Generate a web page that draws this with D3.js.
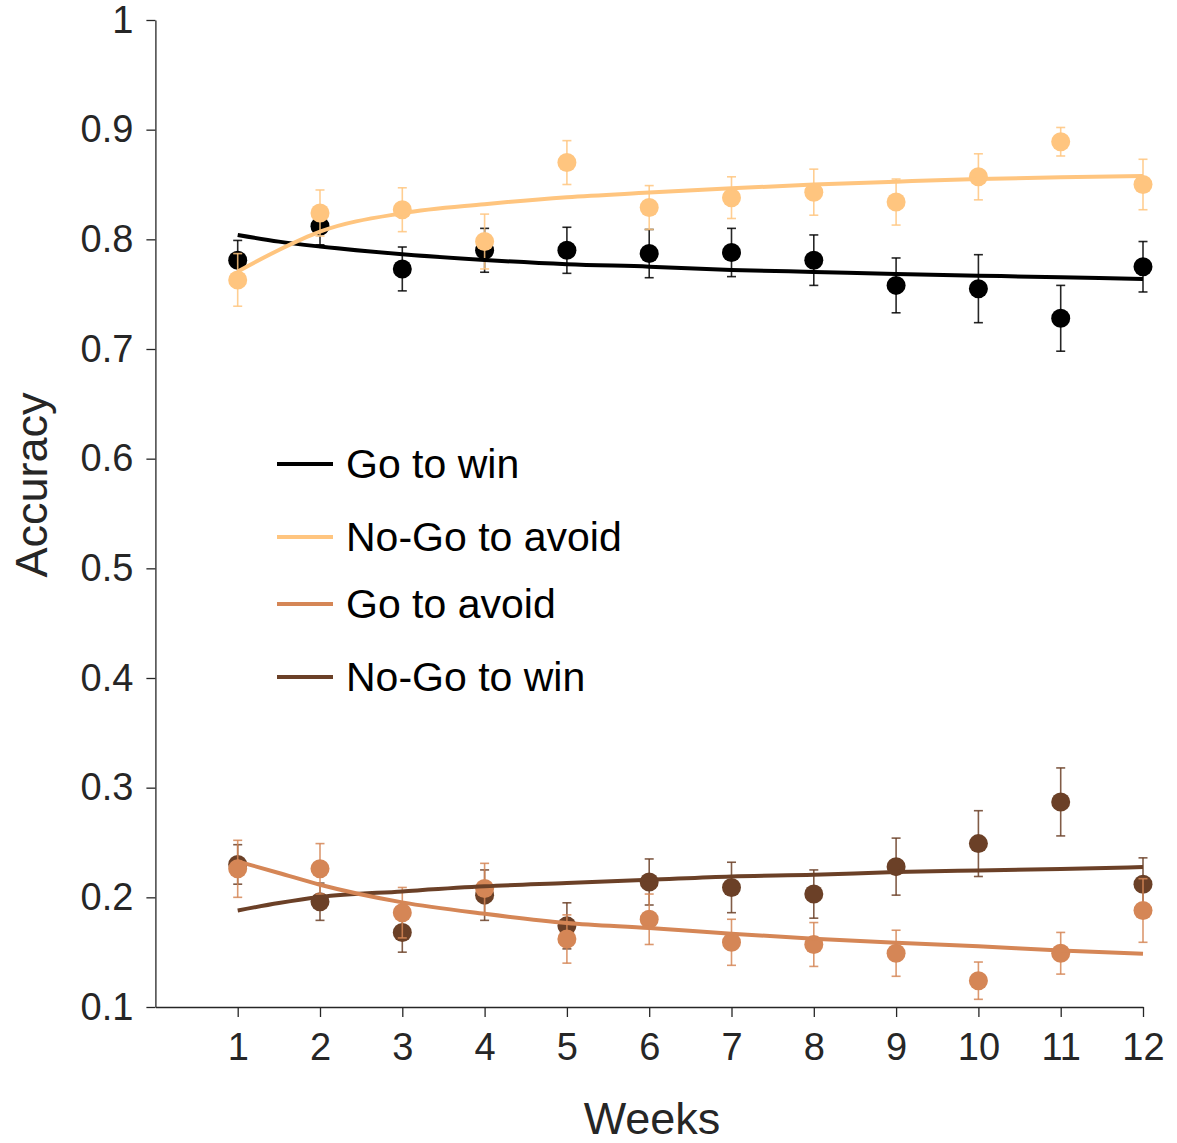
<!DOCTYPE html>
<html>
<head>
<meta charset="utf-8">
<script src="https://cdn.jsdelivr.net/npm/d3@7"></script>
<style>
  body { margin: 0; background: #fff; }
  svg { display: block; font-family: "Liberation Sans", Arial, Helvetica, sans-serif; }
</style>
</head>
<body>
<div id="chart"></div>
<script>
// weeks and tick values
const weeks = [1, 2, 3, 4, 5, 6, 7, 8, 9, 10, 11, 12];
const yTicks = [0.1, 0.2, 0.3, 0.4, 0.5, 0.6, 0.7, 0.8, 0.9, 1];

// series names + colors
const seriesNames = ['Go to win', 'No-Go to avoid', 'Go to avoid', 'No-Go to win'];
const seriesColors = ['#000000', '#FFC57F', '#D58656', '#6B4027'];

// weekly means and error (s.e.m.)
const goWinMean = [0.781, 0.812, 0.773, 0.790, 0.790, 0.787, 0.788, 0.781, 0.758, 0.755, 0.728, 0.775];
const goWinErr = [0.018, 0.017, 0.020, 0.020, 0.021, 0.022, 0.022, 0.023, 0.025, 0.031, 0.030, 0.023];
const noGoAvoidMean = [0.763, 0.824, 0.827, 0.798, 0.870, 0.829, 0.838, 0.843, 0.834, 0.857, 0.889, 0.850];
const noGoAvoidErr = [0.024, 0.021, 0.020, 0.025, 0.020, 0.020, 0.019, 0.021, 0.021, 0.021, 0.013, 0.023];
const goAvoidMean = [0.226, 0.226, 0.186, 0.208, 0.162, 0.180, 0.159, 0.157, 0.149, 0.124, 0.149, 0.188];
const goAvoidErr = [0.026, 0.023, 0.023, 0.023, 0.022, 0.023, 0.021, 0.020, 0.021, 0.017, 0.019, 0.029];
const noGoWinMean = [0.230, 0.196, 0.168, 0.202, 0.174, 0.214, 0.209, 0.203, 0.228, 0.249, 0.287, 0.212];
const noGoWinErr = [0.018, 0.017, 0.018, 0.023, 0.021, 0.021, 0.023, 0.022, 0.026, 0.030, 0.031, 0.024];

// fitted curves, sampled off the figure
const fitWeeks = [1, 1.5, 2, 3, 4, 5, 6, 7, 8, 9, 10, 11, 12];
const goWinFit = [0.804, 0.7979, 0.7934, 0.7864, 0.7812, 0.7773, 0.7751, 0.7721, 0.7703, 0.7685, 0.7669, 0.7654, 0.7639];
const noGoAvoidFit = [0.7706, 0.7903, 0.807, 0.8238, 0.832, 0.8384, 0.8426, 0.8466, 0.8499, 0.8526, 0.855, 0.8566, 0.8578];
const goAvoidFit = [0.2328, 0.2222, 0.2115, 0.1954, 0.185, 0.1766, 0.172, 0.1668, 0.1623, 0.1586, 0.1553, 0.1516, 0.1486];
const noGoWinFit = [0.188, 0.1948, 0.2003, 0.2054, 0.21, 0.213, 0.216, 0.2191, 0.2206, 0.2231, 0.2245, 0.2258, 0.2276];

function buildSeries() {
    const means = [goWinMean, noGoAvoidMean, goAvoidMean, noGoWinMean];
    const errs = [goWinErr, noGoAvoidErr, goAvoidErr, noGoWinErr];
    const fits = [goWinFit, noGoAvoidFit, goAvoidFit, noGoWinFit];
    return seriesNames.map((name, i) => ({
        name,
        color: seriesColors[i],
        points: weeks.map((w, j) => ({ week: w, mean: means[i][j], err: errs[i][j] })),
        fit: fitWeeks.map((w, j) => ({ week: w, value: fits[i][j] }))
    }));
}

function renderChart(series) {
    const width = 1177;
    const height = 1143;
    const textColor = '#262626';

    const x = d3.scaleLinear().domain([0, 12]).range([155.4, 1143]);
    const y = d3.scaleLinear().domain([0.1, 1]).range([1007, 20]);

    const svg = d3.select('#chart').append('svg')
        .attr('width', width)
        .attr('height', height);

    // axes
    const yAxis = svg.append('g')
        .attr('transform', `translate(${x(0)},0)`)
        .call(d3.axisLeft(y).tickValues(yTicks).tickSize(9).tickSizeOuter(0)
            .tickPadding(13).tickFormat(d3.format('~g')));
    const xAxis = svg.append('g')
        .attr('transform', `translate(0,${y(0.1)})`)
        .call(d3.axisBottom(x).tickValues(weeks).tickSize(10).tickSizeOuter(0)
            .tickPadding(16).tickFormat(d3.format('d')));
    [xAxis, yAxis].forEach(ax => {
        ax.select('.domain').attr('stroke', textColor).attr('stroke-width', 1.3);
        ax.selectAll('.tick line').attr('stroke', textColor).attr('stroke-width', 1.3);
        ax.selectAll('.tick text').attr('fill', textColor).style('font-size', '38px');
    });

    svg.append('text')
        .attr('x', 652).attr('y', 1134)
        .attr('text-anchor', 'middle')
        .attr('fill', textColor)
        .style('font-size', '45px')
        .text('Weeks');
    svg.append('text')
        .attr('transform', 'translate(47,485) rotate(-90)')
        .attr('text-anchor', 'middle')
        .attr('fill', textColor)
        .style('font-size', '45px')
        .text('Accuracy');

    // draw order seen in the figure: black, light orange, brown, orange
    const drawOrder = [0, 1, 3, 2];
    drawOrder.forEach(i => {
        const s = series[i];
        const g = svg.append('g');
        const bars = g.selectAll('g.err').data(s.points).enter().append('g')
            .attr('stroke', s.color).attr('stroke-width', 1.6).attr('stroke-opacity', 0.85);
        bars.append('line')
            .attr('x1', d => x(d.week)).attr('x2', d => x(d.week))
            .attr('y1', d => y(d.mean - d.err)).attr('y2', d => y(d.mean + d.err));
        bars.append('line')
            .attr('x1', d => x(d.week) - 4.5).attr('x2', d => x(d.week) + 4.5)
            .attr('y1', d => y(d.mean + d.err)).attr('y2', d => y(d.mean + d.err));
        bars.append('line')
            .attr('x1', d => x(d.week) - 4.5).attr('x2', d => x(d.week) + 4.5)
            .attr('y1', d => y(d.mean - d.err)).attr('y2', d => y(d.mean - d.err));
        g.selectAll('circle').data(s.points).enter().append('circle')
            .attr('cx', d => x(d.week))
            .attr('cy', d => y(d.mean))
            .attr('r', 9.5)
            .attr('fill', s.color);
    });

    // fitted curves on top
    const line = d3.line()
        .x(d => x(d.week))
        .y(d => y(d.value))
        .curve(d3.curveMonotoneX);
    drawOrder.forEach(i => {
        svg.append('path')
            .datum(series[i].fit)
            .attr('d', line)
            .attr('fill', 'none')
            .attr('stroke', series[i].color)
            .attr('stroke-width', 4);
    });

    // legend
    const legendY = [464, 537, 604, 677];
    const legend = svg.append('g');
    series.forEach((s, i) => {
        legend.append('line')
            .attr('x1', 277).attr('x2', 333)
            .attr('y1', legendY[i]).attr('y2', legendY[i])
            .attr('stroke', s.color).attr('stroke-width', 4);
        legend.append('text')
            .attr('x', 346).attr('y', legendY[i] + 14)
            .attr('fill', '#000')
            .style('font-size', '41px')
            .text(s.name);
    });
}

renderChart(buildSeries());
</script>
</body>
</html>
